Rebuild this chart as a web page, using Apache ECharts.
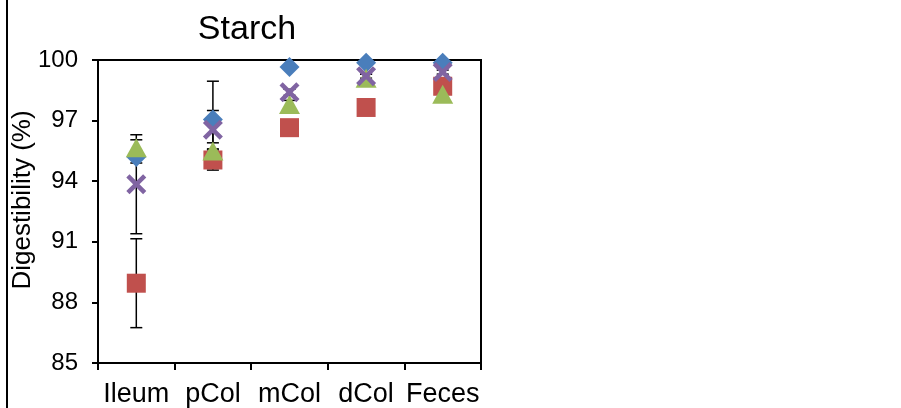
<!DOCTYPE html>
<html>
<head>
<meta charset="utf-8">
<script src="https://cdn.jsdelivr.net/npm/echarts@6/dist/echarts.min.js"></script>
<style>
  html, body { margin: 0; padding: 0; background: #fff; }
  #chart { width: 901px; height: 408px; }
</style>
</head>
<body>
<div id="chart"></div>
<script>
// Sampling sites along the gut
const categories = ['Ileum', 'pCol', 'mCol', 'dCol', 'Feces'];

// Mean starch digestibility (%) per diet, with standard errors
const blueMean   = [95.2, 97.05, 99.65, 99.87, 99.87];
const blueErr    = [0.3, 1.9, 0.1, 0.1, 0.1];
const redMean    = [88.95, 95.05, 96.65, 97.65, 98.7];
const redErr     = [2.2, 0.5, 0.2, 0.2, 0.2];
const greenMean  = [95.65, 95.5, 97.8, 99.1, 98.3];
const greenErr   = [0.4, 0.4, 0.2, 0.2, 0.2];
const purpleMean = [93.85, 96.55, 98.4, 99.2, 99.4];
const purpleErr  = [2.45, 0.95, 0.15, 0.1, 0.1];

const yTicks = { min: 85, max: 100, interval: 3 };

const FONT = 'Liberation Sans, Arial, sans-serif';
const X_SYMBOL = 'path://M0,3.2L3.2,0L10,6.8L16.8,0L20,3.2L13.2,10L20,16.8L16.8,20L10,13.2L3.2,20L0,16.8L6.8,10Z';

const groups = [
  { name: 'A', mean: blueMean,   err: blueErr,   color: '#4A7EBB', symbol: 'diamond',  size: [20, 20] },
  { name: 'B', mean: redMean,    err: redErr,    color: '#C0504D', symbol: 'rect',     size: 19 },
  { name: 'C', mean: greenMean,  err: greenErr,  color: '#9BBB59', symbol: 'triangle', size: [21, 19] },
  { name: 'D', mean: purpleMean, err: purpleErr, color: '#8064A2', symbol: X_SYMBOL,   size: 20 }
];

function errorBarRender(params, api) {
  const xi = api.value(0);
  const lo = api.coord([xi, api.value(1)]);
  const hi = api.coord([xi, api.value(2)]);
  const half = 6;
  const style = { stroke: '#000', lineWidth: 1.5, fill: null };
  return {
    type: 'group',
    children: [
      { type: 'line', shape: { x1: lo[0], y1: lo[1], x2: hi[0], y2: hi[1] }, style },
      { type: 'line', shape: { x1: lo[0] - half, y1: lo[1], x2: lo[0] + half, y2: lo[1] }, style },
      { type: 'line', shape: { x1: hi[0] - half, y1: hi[1], x2: hi[0] + half, y2: hi[1] }, style }
    ]
  };
}

const series = [];
groups.forEach((g) => {
  series.push({
    type: 'custom',
    name: g.name + ' error',
    renderItem: errorBarRender,
    data: g.mean.map((m, k) => [k, m - g.err[k], m + g.err[k]]),
    encode: { x: 0, y: [1, 2] },
    z: 2,
    silent: true
  });
});
groups.forEach((g, i) => {
  series.push({
    type: 'scatter',
    name: g.name,
    data: g.mean,
    symbol: g.symbol,
    symbolSize: g.size,
    itemStyle: { color: g.color, opacity: 1 },
    z: 3 + i
  });
});

const chart = echarts.init(document.getElementById('chart'), null, { renderer: 'canvas' });
chart.setOption({
  animation: false,
  backgroundColor: '#fff',
  grid: {
    left: 98, right: 420, top: 60, bottom: 45,
    show: true, borderColor: '#000', borderWidth: 2, backgroundColor: 'transparent'
  },
  xAxis: {
    type: 'category',
    data: categories,
    boundaryGap: true,
    axisLine: { lineStyle: { color: '#000', width: 2 } },
    axisTick: { show: true, length: 7, lineStyle: { color: '#000', width: 2 } },
    axisLabel: { color: '#000', fontSize: 27, fontFamily: FONT, margin: 18, interval: 0 },
    splitLine: { show: false }
  },
  yAxis: {
    type: 'value',
    min: yTicks.min, max: yTicks.max, interval: yTicks.interval,
    axisLine: { show: true, lineStyle: { color: '#000', width: 2 } },
    axisTick: { show: true, length: 6, lineStyle: { color: '#000', width: 2 } },
    axisLabel: { color: '#000', fontSize: 24, fontFamily: FONT, margin: 20 },
    splitLine: { show: false }
  },
  graphic: [
    {
      type: 'text',
      style: { text: 'Starch', x: 247, y: 30, textAlign: 'center', textVerticalAlign: 'middle',
               font: '34px ' + FONT, fill: '#000' }
    },
    {
      type: 'text',
      x: 23, y: 200, rotation: Math.PI / 2,
      style: { text: 'Digestibility (%)', x: 0, y: 0, textAlign: 'center', textVerticalAlign: 'middle',
               font: '26px ' + FONT, fill: '#000' }
    },
    {
      type: 'line',
      shape: { x1: 7, y1: 0, x2: 7, y2: 408 },
      style: { stroke: '#000', lineWidth: 2 }
    }
  ],
  series
});
</script>
</body>
</html>
